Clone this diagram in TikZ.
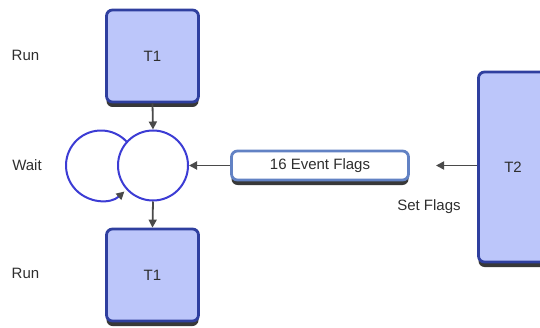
\documentclass[tikz,border=0pt]{standalone}
\usepackage{fontspec}
\setmainfont{Liberation Sans}
\usetikzlibrary{positioning, shapes, shadows, arrows.meta}
\definecolor{taskfill}{HTML}{BCC6FA}
\definecolor{taskline}{HTML}{2F3F9F}
\definecolor{flagline}{HTML}{6282C4}
\definecolor{waitblue}{HTML}{3C3CD4}
\definecolor{arrowgrey}{HTML}{4A4A4A}
\definecolor{shadowgrey}{HTML}{383838}

\begin{document}
\begin{tikzpicture}[x=1pt, y=1pt,
        font=\fontsize{15}{18}\selectfont, text=black!82,
        boxshadow/.style={drop shadow={shadow xshift=0pt, shadow yshift=-5pt, fill=shadowgrey, opacity=1}},
        task/.style={draw=taskline, fill=taskfill, line width=2.8pt, rounded corners=6pt, boxshadow},
        flagbox/.style={draw=flagline, fill=white, line width=2.8pt, rounded corners=6pt, boxshadow},
        waitcircle/.style={draw=waitblue, fill=white, circle, line width=2pt},
        flow/.style={draw=arrowgrey, line width=1.8pt, -{Triangle[length=8pt, width=8pt]}}]
    \useasboundingbox (0,0) rectangle (540,327);

    % Draw the task boxes
    \node[task, minimum width=92, minimum height=92] (t1top) at (152.5,271) {T1};
    \node[task, minimum width=92, minimum height=92] (t1bot) at (152.5,52) {T1};
    \node[task, minimum width=69, minimum height=190] (t2) at (513,160) {T2};

    % Draw the event flag group
    \node[flagbox, minimum width=177, minimum height=29] (flags) at (320,161.5) {16 Event Flags};

    % Draw the waiting loop
    \coordinate (wl) at (101,161.5);
    \draw[waitblue, line width=2pt, -{Triangle[length=8pt, width=8pt, color=arrowgrey]}]
        ([shift={(43:35)}]wl) arc[start angle=43, end angle=312, radius=35];
    \node[waitcircle, minimum size=70] (wr) at (153,161.5) {};

    % Draw the state labels
    \node (run1) at (25.5,272) {Run};
    \node (wait) at (27,162) {Wait};
    \node (run2) at (25.5,54) {Run};
    \node (setf) at (429,120) {Set Flags};

    % Draw the arrows
    \coordinate (sf) at (436,161.5);
    \draw[flow] (t1top.south) -- (wr.north);
    \draw[flow] (wr.south) -- (t1bot.north);
    \draw[flow] (flags.west) -- (wr.east);
    \draw[flow] (t2.west |- sf) -- (sf);
\end{tikzpicture}
\end{document}
